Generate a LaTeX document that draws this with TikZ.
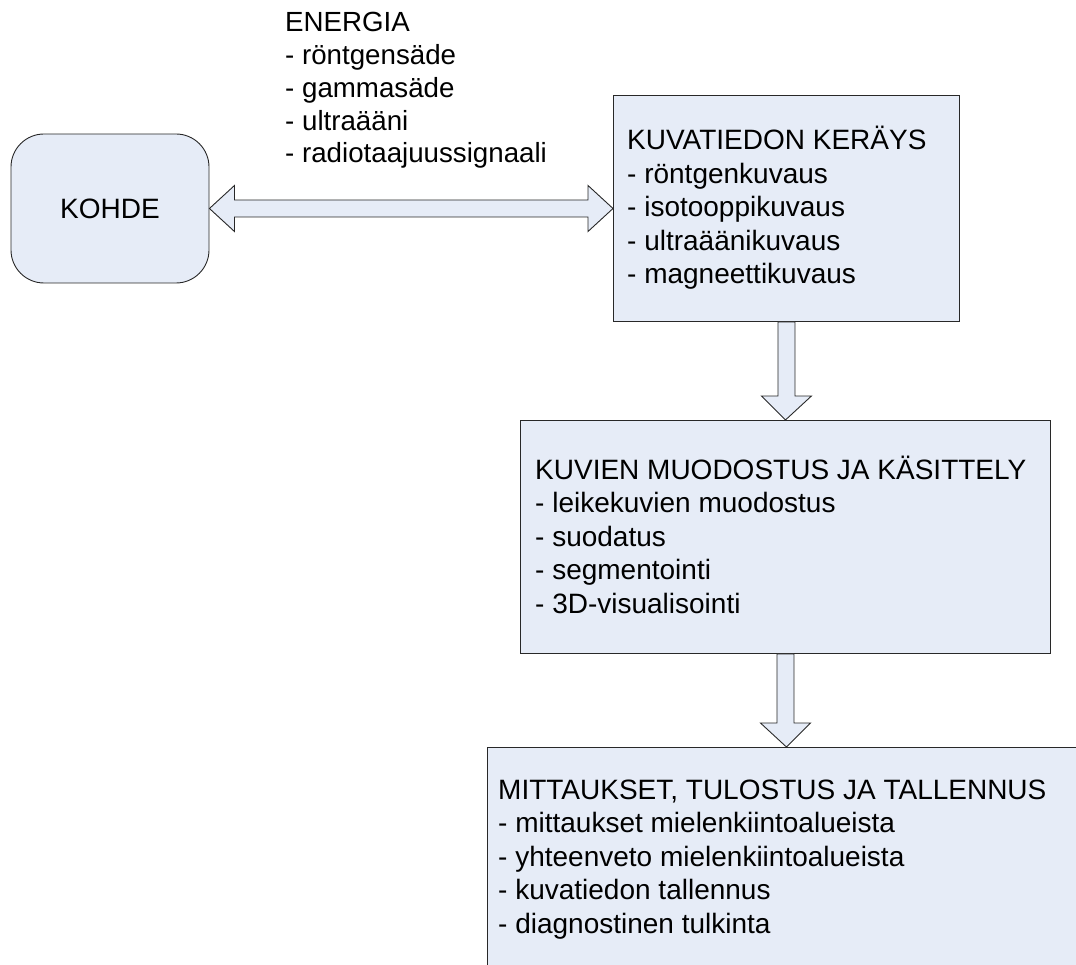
\documentclass[tikz,border=0pt]{standalone}
\usepackage{fontspec}
\setmainfont{Liberation Sans}
\usetikzlibrary{calc}
\definecolor{boxfill}{RGB}{230,236,247}
\definecolor{boxline}{RGB}{40,40,40}
\begin{document}
\begin{tikzpicture}[x=1pt,y=-1pt,
  box/.style={draw=boxline, fill=boxfill, line width=0.9pt, inner sep=0pt},
  txt/.style={anchor=base west, inner sep=0pt, align=left,
    font=\fontsize{28}{33.5}\selectfont},
  blockarrow/.style={draw=boxline, fill=boxfill, line width=0.9pt, line join=miter}]
\useasboundingbox (0,0) rectangle (1076,965);
\clip (0,0) rectangle (1076,965);

% boxes
\node[box, rounded corners=33pt, minimum width=198pt, minimum height=149pt,
  font=\fontsize{28}{33.5}\selectfont] (kohde) at (110,208.5) {KOHDE};
\node[box, anchor=north west, minimum width=346pt, minimum height=226pt] (keruu) at (613,95) {};
\node[box, anchor=north west, minimum width=530pt, minimum height=233pt] (kasittely) at (520,420) {};
\node[box, anchor=north west, minimum width=598pt, minimum height=260pt] (tallennus) at (487,747) {};

% texts (anchored at the baseline of their last line)
\node[txt, font=\fontsize{27.7}{32.8}\selectfont] (energia) at (285,163) {ENERGIA\\- röntgensäde\\- gammasäde\\- ultraääni\\- radiotaajuussignaali};
\node[txt] (keruutxt) at (627,284) {KUVATIEDON KERÄYS\\- röntgenkuvaus\\- isotooppikuvaus\\- ultraäänikuvaus\\- magneettikuvaus};
\node[txt] (kasittelytxt) at (535,613) {KUVIEN MUODOSTUS JA KÄSITTELY\\- leikekuvien muodostus\\- suodatus\\- segmentointi\\- 3D-visualisointi};
\node[txt] (tallennustxt) at (498,933) {MITTAUKSET, TULOSTUS JA TALLENNUS\\- mittaukset mielenkiintoalueista\\- yhteenveto mielenkiintoalueista\\- kuvatiedon tallennus\\- diagnostinen tulkinta};

% double block arrow between object and acquisition
\draw[blockarrow] let \p1=(kohde.east), \p2=(keruu.west) in
  (\x1,\y1) -- (\x1+25pt,\y1+23pt) -- (\x1+25pt,\y1+8.5pt) -- (\x2-25pt,\y1+8.5pt)
  -- (\x2-25pt,\y1+23pt) -- (\x2,\y1) -- (\x2-25pt,\y1-23pt) -- (\x2-25pt,\y1-8.5pt)
  -- (\x1+25pt,\y1-8.5pt) -- (\x1+25pt,\y1-23pt) -- cycle;

% downward block arrows
\draw[blockarrow] let \p1=(keruu.south), \p2=(kasittely.north) in
  (\x1-8.5pt,\y1) -- (\x1-8.5pt,\y2+24pt) -- (\x1-25pt,\y2+24pt) -- (\x2,\y2)
  -- (\x1+25pt,\y2+24pt) -- (\x1+8.5pt,\y2+24pt) -- (\x1+8.5pt,\y1) -- cycle;
\draw[blockarrow] let \p1=(kasittely.south), \p2=(tallennus.north) in
  (\x1-8.5pt,\y1) -- (\x1-8.5pt,\y2+24pt) -- (\x1-25pt,\y2+24pt) -- (\x2,\y2)
  -- (\x1+25pt,\y2+24pt) -- (\x1+8.5pt,\y2+24pt) -- (\x1+8.5pt,\y1) -- cycle;
\end{tikzpicture}
\end{document}
